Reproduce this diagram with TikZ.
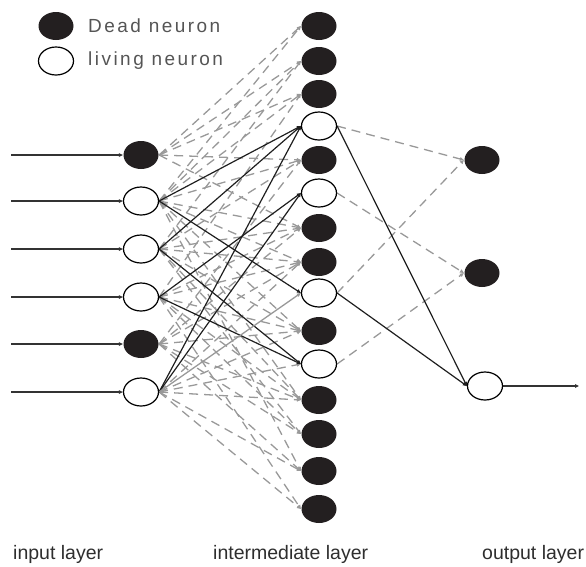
\documentclass[tikz,border=0pt]{standalone}
\usepackage{fontspec}
\setmainfont{Liberation Sans}
\newfontfamily\legendfont[LetterSpace=13]{Liberation Sans}
\usetikzlibrary{arrows.meta,shapes.geometric,backgrounds}
\definecolor{deadfill}{HTML}{231F20}
\definecolor{dashgray}{HTML}{999999}
\definecolor{legendgray}{HTML}{555555}
\definecolor{labelgray}{HTML}{2E2E2E}
\begin{document}
\begin{tikzpicture}[x=1pt,y=-1pt,
  neuron/.style={ellipse, minimum width=35pt, minimum height=28pt, inner sep=0pt, line width=1.2pt},
  dead/.style={neuron, fill=deadfill, draw=none},
  living/.style={neuron, fill=white, draw=black},
  tipstyle/.style={-{Triangle[length=4pt,width=3.5pt]}},
  solidedge/.style={draw=black!88, line width=1.2pt, tipstyle},
  graysolid/.style={draw=dashgray, line width=1.3pt, tipstyle},
  dashedge/.style={draw=dashgray, line width=1.3pt, dash pattern=on 9pt off 6pt, tipstyle},
  inline/.style={draw=black!80, line width=1.2pt, tipstyle},
  legendtext/.style={anchor=base west, inner sep=0pt, text=legendgray, font=\legendfont\fontsize{19}{22}\selectfont},
  layertext/.style={anchor=base west, inner sep=0pt, text=labelgray, font=\fontsize{19.5}{22}\selectfont}
]
\useasboundingbox (0,0) rectangle (586,566);

% legend
\node[dead] (lgdead) at (56,26) {};
\node[living] (lgliving) at (56,61) {};
\node[legendtext] (lgdeadtext) at (88,32) {Dead neuron};
\node[legendtext] (lglivingtext) at (88,65) {living neuron};

% input layer
\foreach \i/\y/\s in {1/155/dead,2/201/living,3/249/living,4/297/living,5/344/dead,6/392/living}{
  \node[\s] (in\i) at (141,\y) {};
  \coordinate (src\i) at (11,\y);
}
% intermediate layer
\foreach \j/\y/\s in {1/26/dead,2/61/dead,3/94/dead,4/126/living,5/160/dead,6/193/living,7/228/dead,8/262/dead,9/293/living,10/331/dead,11/364/living,12/400/dead,13/434/dead,14/471/dead,15/509/dead}{
  \node[\s] (m\j) at (319,\y) {};
}
% output layer
\node[dead] (o1) at (482,160) {};
\node[dead] (o2) at (482,273) {};
\node[living] (o3) at (485,386) {};
\coordinate (sink) at (579,386);

\begin{scope}[on background layer]
  % input to intermediate, dashed
  \foreach \i/\targets in {
      1/{1,2,3,5,7},
      2/{1,2,3,5,7,8,10,12,14},
      3/{2,5,7,8,10,12,13},
      4/{3,7,8,10,12,13,15},
      5/{5,7,8,10,12,13,14},
      6/{8,10,11,12,14,15}}{
    \foreach \j in \targets{
      \draw[dashedge] (in\i.east) -- (m\j.west);
    }
  }
  % input to intermediate, solid
  \foreach \i/\j in {2/4,2/9,3/4,3/11,4/6,4/11,6/4,6/6}{
    \draw[solidedge] (in\i.east) -- (m\j.west);
  }
  \draw[graysolid] (in6.east) -- (m9.west);
  % intermediate to output
  \draw[dashedge] (m4.east) -- (o1.west);
  \draw[dashedge] (m6.east) -- (o2.west);
  \draw[dashedge] (m9.east) -- (o1.west);
  \draw[dashedge] (m11.east) -- (o2.west);
  \draw[solidedge] (m4.east) -- (o3.west);
  \draw[solidedge] (m9.east) -- (o3.west);
  % inputs and output
  \foreach \i in {1,...,6}{
    \draw[inline] (src\i) -- (in\i.west);
  }
  \draw[inline] (o3.east) -- (sink);
\end{scope}

% layer labels
\node[layertext] (lblin) at (13,559) {input layer};
\node[layertext] (lblmid) at (213,559) {intermediate layer};
\node[layertext] (lblout) at (482,559) {output layer};
\end{tikzpicture}
\end{document}
